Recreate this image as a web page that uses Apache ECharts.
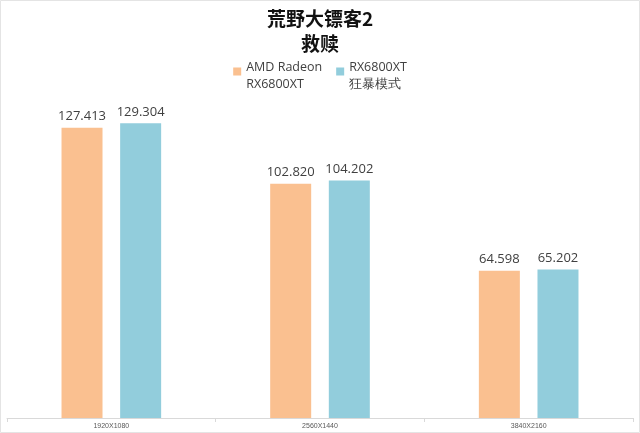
<!DOCTYPE html>
<html><head><meta charset="utf-8">
<script src="https://cdn.jsdelivr.net/npm/echarts@6/dist/echarts.min.js"></script>
<style>html,body{margin:0;padding:0;background:#fff}#c{width:640px;height:433px}</style>
</head><body><div id="c"></div>
<script>
const categories = ['1920X1080', '2560X1440', '3840X2160'];
const seriesNames = ['AMD Radeon\nRX6800XT', 'RX6800XT\n狂暴模式'];
const amdValues = [127.413, 102.820, 64.598];
const berserkValues = [129.304, 104.202, 65.202];
const colors = ['#FAC090', '#92CDDC'];

const chart = echarts.init(document.getElementById('c'));
const labelCfg = {show: true, position: 'top', distance: 5, color: '#404040', fontSize: 13, fontFamily: 'Open Sans', formatter: p => p.value.toFixed(3)};
chart.setOption({
  backgroundColor: '#fff',
  animation: false,
  title: {
    text: '荒野大镖客2\n救赎', left: 'center', top: 1,
    textStyle: {fontFamily: 'Noto Sans CJK SC', fontSize: 19, fontWeight: 'bold', color: '#111', lineHeight: 25}
  },
  legend: {
    top: 54, left: 'center', itemWidth: 8, itemHeight: 17, itemGap: 14,
    icon: 'path://M0 0h8v8H0zM0 17h0v0z',
    textStyle: {fontFamily: 'Open Sans', fontSize: 12.5, color: '#404040', lineHeight: 17},
    data: seriesNames
  },
  grid: {left: 7, right: 7, top: 99, bottom: 15},
  xAxis: {
    type: 'category', data: categories,
    axisLine: {lineStyle: {color: '#d9d9d9'}},
    axisTick: {show: true, length: 4, lineStyle: {color: '#d9d9d9'}},
    axisLabel: {fontSize: 7, color: '#595959', margin: 5}
  },
  yAxis: {type: 'value', min: 0, max: 140, show: false, splitLine: {show: false}},
  series: [
    {name: seriesNames[0], type: 'bar', data: amdValues, barWidth: 41, barGap: '43%', itemStyle: {color: colors[0]}, label: labelCfg},
    {name: seriesNames[1], type: 'bar', data: berserkValues, barWidth: 41, itemStyle: {color: colors[1]}, label: labelCfg}
  ],
  graphic: [{type: 'rect', shape: {x: 0.5, y: 0.5, width: 639, height: 432}, style: {fill: 'none', stroke: '#e4e4e4'}, silent: true}]
});
</script></body></html>
